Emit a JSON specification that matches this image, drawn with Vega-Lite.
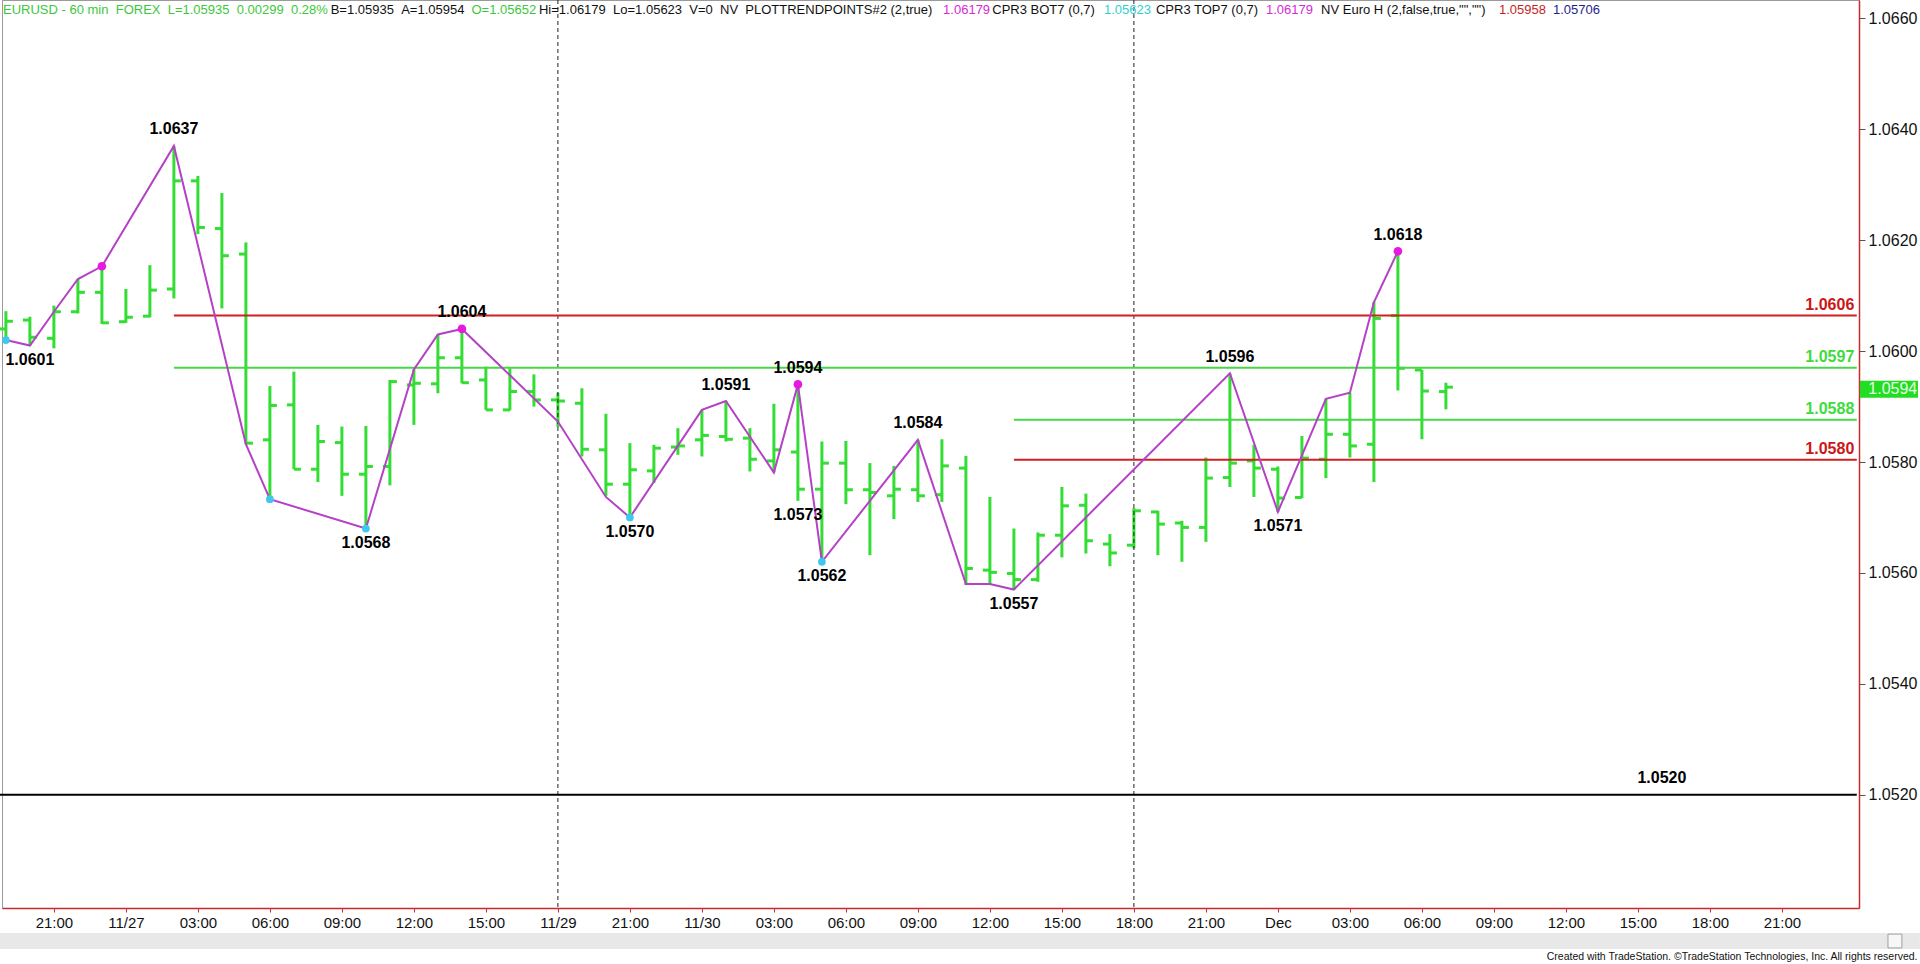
{
  "$schema": "https://vega.github.io/schema/vega-lite/v6.json",
  "width": 1857,
  "height": 908,
  "autosize": {"type": "none"},
  "padding": {"left": 2, "top": 0, "right": 61, "bottom": 56},
  "background": "white",
  "config": {
    "font": "Liberation Sans",
    "view": {"stroke": "#9a9a9a", "strokeWidth": 1}
  },
  "datasets": {
    "bars": [
      {"h": -2, "o": 1.0604, "hi": 1.06072, "lo": 1.0602, "c": 1.06054},
      {"h": -1, "o": 1.06056, "hi": 1.06062, "lo": 1.0601, "c": 1.06025},
      {"h": 0, "o": 1.06023, "hi": 1.06082, "lo": 1.06005, "c": 1.06071},
      {"h": 1, "o": 1.06071, "hi": 1.0613, "lo": 1.06068, "c": 1.06106},
      {"h": 2, "o": 1.06106, "hi": 1.06153, "lo": 1.06049, "c": 1.06051},
      {"h": 3, "o": 1.06053, "hi": 1.06112, "lo": 1.06051, "c": 1.06061},
      {"h": 4, "o": 1.06063, "hi": 1.06155, "lo": 1.06061, "c": 1.0611},
      {"h": 5, "o": 1.06112, "hi": 1.0637, "lo": 1.06095, "c": 1.06307},
      {"h": 6, "o": 1.06307, "hi": 1.06316, "lo": 1.06211, "c": 1.06223},
      {"h": 7, "o": 1.06221, "hi": 1.06285, "lo": 1.06077, "c": 1.06172},
      {"h": 8, "o": 1.06175, "hi": 1.06196, "lo": 1.05832, "c": 1.05834},
      {"h": 9, "o": 1.0584, "hi": 1.05937, "lo": 1.05733, "c": 1.05902},
      {"h": 10, "o": 1.05903, "hi": 1.05963, "lo": 1.05787, "c": 1.05787},
      {"h": 11, "o": 1.05787, "hi": 1.05867, "lo": 1.05764, "c": 1.05837},
      {"h": 12, "o": 1.05835, "hi": 1.05864, "lo": 1.05739, "c": 1.05778},
      {"h": 13, "o": 1.05778, "hi": 1.05865, "lo": 1.0568, "c": 1.05792},
      {"h": 14, "o": 1.05792, "hi": 1.05948, "lo": 1.05758, "c": 1.05945},
      {"h": 15, "o": 1.05939, "hi": 1.05967, "lo": 1.05867, "c": 1.05942},
      {"h": 16, "o": 1.05941, "hi": 1.0603, "lo": 1.05924, "c": 1.05988},
      {"h": 17, "o": 1.05988, "hi": 1.0604, "lo": 1.05942, "c": 1.05943},
      {"h": 18, "o": 1.05948, "hi": 1.05972, "lo": 1.05894, "c": 1.05894},
      {"h": 19, "o": 1.05894, "hi": 1.05969, "lo": 1.05893, "c": 1.05927},
      {"h": 20, "o": 1.05927, "hi": 1.05958, "lo": 1.059, "c": 1.05912},
      {"h": 21, "o": 1.05912, "hi": 1.05925, "lo": 1.05863, "c": 1.0591},
      {"h": 22, "o": 1.05906, "hi": 1.05933, "lo": 1.0581, "c": 1.05823},
      {"h": 23, "o": 1.05822, "hi": 1.05887, "lo": 1.05739, "c": 1.0576},
      {"h": 24, "o": 1.0576, "hi": 1.05834, "lo": 1.057, "c": 1.05786},
      {"h": 25, "o": 1.05784, "hi": 1.05831, "lo": 1.05762, "c": 1.05825},
      {"h": 26, "o": 1.05827, "hi": 1.05861, "lo": 1.05813, "c": 1.05829},
      {"h": 27, "o": 1.0584, "hi": 1.05894, "lo": 1.0581, "c": 1.05848},
      {"h": 28, "o": 1.05846, "hi": 1.0591, "lo": 1.05837, "c": 1.05841},
      {"h": 29, "o": 1.05843, "hi": 1.05861, "lo": 1.05783, "c": 1.05805},
      {"h": 30, "o": 1.05802, "hi": 1.05905, "lo": 1.05781, "c": 1.05822},
      {"h": 31, "o": 1.05818, "hi": 1.0594, "lo": 1.0573, "c": 1.05751},
      {"h": 32, "o": 1.05751, "hi": 1.05837, "lo": 1.0562, "c": 1.05798},
      {"h": 33, "o": 1.05798, "hi": 1.05838, "lo": 1.05724, "c": 1.0575},
      {"h": 34, "o": 1.0575, "hi": 1.05798, "lo": 1.05632, "c": 1.05745},
      {"h": 35, "o": 1.05739, "hi": 1.05793, "lo": 1.05697, "c": 1.05751},
      {"h": 36, "o": 1.0575, "hi": 1.0584, "lo": 1.05728, "c": 1.05739},
      {"h": 37, "o": 1.05741, "hi": 1.05841, "lo": 1.05728, "c": 1.05793},
      {"h": 38, "o": 1.05789, "hi": 1.05811, "lo": 1.05578, "c": 1.05608},
      {"h": 39, "o": 1.05605, "hi": 1.05737, "lo": 1.05578, "c": 1.05601},
      {"h": 40, "o": 1.05599, "hi": 1.0568, "lo": 1.0557, "c": 1.05588},
      {"h": 41, "o": 1.05588, "hi": 1.05673, "lo": 1.05584, "c": 1.05668},
      {"h": 42, "o": 1.05668, "hi": 1.05755, "lo": 1.05628, "c": 1.05721},
      {"h": 43, "o": 1.05722, "hi": 1.05743, "lo": 1.05635, "c": 1.05658},
      {"h": 44, "o": 1.05652, "hi": 1.0567, "lo": 1.05612, "c": 1.05636},
      {"h": 45, "o": 1.0565, "hi": 1.05717, "lo": 1.05644, "c": 1.05712},
      {"h": 46, "o": 1.0571, "hi": 1.05712, "lo": 1.05632, "c": 1.05688},
      {"h": 47, "o": 1.0569, "hi": 1.05694, "lo": 1.0562, "c": 1.05682},
      {"h": 48, "o": 1.05682, "hi": 1.05808, "lo": 1.05656, "c": 1.05771},
      {"h": 49, "o": 1.05772, "hi": 1.0596, "lo": 1.05755, "c": 1.05798},
      {"h": 50, "o": 1.05802, "hi": 1.05831, "lo": 1.05737, "c": 1.05789},
      {"h": 51, "o": 1.05787, "hi": 1.05792, "lo": 1.0571, "c": 1.05735},
      {"h": 52, "o": 1.05736, "hi": 1.05847, "lo": 1.05735, "c": 1.05807},
      {"h": 53, "o": 1.05805, "hi": 1.05914, "lo": 1.05771, "c": 1.0585},
      {"h": 54, "o": 1.0585, "hi": 1.05925, "lo": 1.05808, "c": 1.05829},
      {"h": 55, "o": 1.05832, "hi": 1.06089, "lo": 1.05764, "c": 1.06059},
      {"h": 56, "o": 1.06064, "hi": 1.06179, "lo": 1.05929, "c": 1.05969},
      {"h": 57, "o": 1.05966, "hi": 1.05966, "lo": 1.05841, "c": 1.05928},
      {"h": 58, "o": 1.05927, "hi": 1.05943, "lo": 1.05895, "c": 1.05935}
    ],
    "zig": [
      {"h": -2, "p": 1.0602}, {"h": -1, "p": 1.0601}, {"h": 0, "p": 1.06071},
      {"h": 1, "p": 1.0613}, {"h": 2, "p": 1.06153}, {"h": 5, "p": 1.0637},
      {"h": 8, "p": 1.05832}, {"h": 9, "p": 1.05733}, {"h": 13, "p": 1.0568},
      {"h": 15, "p": 1.05967}, {"h": 16, "p": 1.0603}, {"h": 17, "p": 1.0604},
      {"h": 21, "p": 1.05873}, {"h": 23, "p": 1.05737}, {"h": 24, "p": 1.057},
      {"h": 27, "p": 1.05894}, {"h": 28, "p": 1.0591}, {"h": 30, "p": 1.05781},
      {"h": 31, "p": 1.0594}, {"h": 32, "p": 1.0562}, {"h": 36, "p": 1.0584},
      {"h": 38, "p": 1.0558}, {"h": 39, "p": 1.0558}, {"h": 40, "p": 1.0557},
      {"h": 49, "p": 1.0596}, {"h": 51, "p": 1.0571}, {"h": 53, "p": 1.05914},
      {"h": 54, "p": 1.05925}, {"h": 55, "p": 1.06088}, {"h": 56, "p": 1.0618}
    ],
    "dots": [
      {"h": -2, "p": 1.0602, "k": "low"}, {"h": 9, "p": 1.05733, "k": "low"},
      {"h": 13, "p": 1.0568, "k": "low"}, {"h": 24, "p": 1.057, "k": "low"},
      {"h": 32, "p": 1.0562, "k": "low"}, {"h": 2, "p": 1.06153, "k": "high"},
      {"h": 17, "p": 1.0604, "k": "high"}, {"h": 31, "p": 1.0594, "k": "high"},
      {"h": 56, "p": 1.0618, "k": "high"}
    ],
    "labels": [
      {"h": 5, "p": 1.0637, "side": "high"}, {"h": 17, "p": 1.0604, "side": "high"},
      {"h": 28, "p": 1.0591, "side": "high"}, {"h": 31, "p": 1.0594, "side": "high"},
      {"h": 36, "p": 1.0584, "side": "high"}, {"h": 49, "p": 1.0596, "side": "high"},
      {"h": 56, "p": 1.0618, "side": "high"},
      {"h": -1, "p": 1.0601, "side": "low"}, {"h": 13, "p": 1.0568, "side": "low"},
      {"h": 24, "p": 1.057, "side": "low"}, {"h": 31, "p": 1.0573, "side": "low"},
      {"h": 32, "p": 1.0562, "side": "low"}, {"h": 40, "p": 1.0557, "side": "low"},
      {"h": 51, "p": 1.0571, "side": "low"}
    ],
    "levels": [
      {"p": 1.06064, "a": 5, "b": 75.12, "k": "r"},
      {"p": 1.0597, "a": 5, "b": 75.12, "k": "g"},
      {"p": 1.05876, "a": 40, "b": 75.12, "k": "g"},
      {"p": 1.05804, "a": 40, "b": 75.12, "k": "r"}
    ],
    "floor": [{"p": 1.052, "a": -2.25, "b": 75.12}],
    "vlines": [{"h": 21}, {"h": 45}],
    "one": [{}]
  },
  "layer": [
    {
      "data": {"name": "bars"},
      "mark": {"type": "rule", "color": "#33dd33", "strokeWidth": 3},
      "encoding": {
        "x": {
          "field": "h", "type": "quantitative", "title": null,
          "scale": {"domain": [-2.1625, 75.2125], "nice": false, "zero": false},
          "axis": {
            "orient": "bottom",
            "title": null,
            "values": [0, 3, 6, 9, 12, 15, 18, 21, 24, 27, 30, 33, 36, 39, 42, 45, 48, 51, 54, 57, 60, 63, 66, 69, 72],
            "labelExpr": "['21:00','11/27','03:00','06:00','09:00','12:00','15:00','11/29','21:00','11/30','03:00','06:00','09:00','12:00','15:00','18:00','21:00','Dec','03:00','06:00','09:00','12:00','15:00','18:00','21:00'][round(datum.value/3)]",
            "grid": false,
            "domainColor": "#cc2a2a",
            "domainWidth": 1.5,
            "tickColor": "#cc2a2a",
            "tickSize": 4,
            "labelFontSize": 15,
            "labelColor": "#111111",
            "labelPadding": 3,
            "labelFlush": false,
            "labelOverlap": false,
            "labelBound": false
          }
        },
        "y": {
          "field": "lo", "type": "quantitative", "title": null,
          "scale": {"domain": [1.049957, 1.066332], "nice": false, "zero": false},
          "axis": {
            "orient": "right",
            "title": null,
            "values": [1.052, 1.054, 1.056, 1.058, 1.06, 1.062, 1.064, 1.066],
            "format": ".4f",
            "grid": false,
            "domainColor": "#cc2a2a",
            "domainWidth": 1.5,
            "tickColor": "#555555",
            "tickSize": 6,
            "labelFontSize": 16,
            "labelColor": "#111111",
            "labelPadding": 3,
            "labelFlush": false,
            "labelOverlap": false,
            "labelBound": false
          }
        },
        "y2": {"field": "hi"}
      }
    },
    {
      "data": {"name": "one"},
      "mark": {"type": "rect", "color": "#e8e8e8"},
      "encoding": {
        "x": {"datum": -2.25, "type": "quantitative", "title": null},
        "x2": {"datum": 77.75},
        "y": {"datum": 1.049506, "type": "quantitative", "title": null},
        "y2": {"datum": 1.049217}
      }
    },
    {
      "data": {"name": "one"},
      "mark": {"type": "rect", "color": "#f7f7f7", "stroke": "#a0a0a0", "strokeWidth": 1},
      "encoding": {
        "x": {"datum": 76.42, "type": "quantitative", "title": null},
        "x2": {"datum": 77.0},
        "y": {"datum": 1.049486, "type": "quantitative", "title": null},
        "y2": {"datum": 1.049237}
      }
    },
    {
      "data": {"name": "bars"},
      "mark": {"type": "tick", "orient": "horizontal", "color": "#33dd33", "size": 7, "thickness": 3, "xOffset": -3.5, "opacity": 1},
      "encoding": {
        "x": {"field": "h", "type": "quantitative", "title": null},
        "y": {"field": "o", "type": "quantitative", "title": null}
      }
    },
    {
      "data": {"name": "bars"},
      "mark": {"type": "tick", "orient": "horizontal", "color": "#33dd33", "size": 7, "thickness": 3, "xOffset": 3.5, "opacity": 1},
      "encoding": {
        "x": {"field": "h", "type": "quantitative", "title": null},
        "y": {"field": "c", "type": "quantitative", "title": null}
      }
    },
    {
      "data": {"name": "vlines"},
      "mark": {"type": "rule", "color": "#222222", "strokeWidth": 1, "strokeDash": [4, 3]},
      "encoding": {
        "x": {"field": "h", "type": "quantitative", "title": null}
      }
    },
    {
      "data": {"name": "levels"},
      "transform": [{"filter": "datum.k == 'r'"}],
      "mark": {"type": "rule", "color": "#d02020", "strokeWidth": 2},
      "encoding": {
        "x": {"field": "a", "type": "quantitative", "title": null},
        "x2": {"field": "b"},
        "y": {"field": "p", "type": "quantitative", "title": null}
      }
    },
    {
      "data": {"name": "levels"},
      "transform": [{"filter": "datum.k == 'g'"}],
      "mark": {"type": "rule", "color": "#47d647", "strokeWidth": 2},
      "encoding": {
        "x": {"field": "a", "type": "quantitative", "title": null},
        "x2": {"field": "b"},
        "y": {"field": "p", "type": "quantitative", "title": null}
      }
    },
    {
      "data": {"name": "floor"},
      "mark": {"type": "rule", "color": "#000000", "strokeWidth": 2},
      "encoding": {
        "x": {"field": "a", "type": "quantitative", "title": null},
        "x2": {"field": "b"},
        "y": {"field": "p", "type": "quantitative", "title": null}
      }
    },
    {
      "data": {"name": "floor"},
      "mark": {"type": "text", "fontSize": 16, "fontWeight": "bold", "color": "#000000", "align": "center", "baseline": "middle", "dy": -17},
      "encoding": {
        "x": {"datum": 67, "type": "quantitative", "title": null},
        "y": {"field": "p", "type": "quantitative", "title": null},
        "text": {"field": "p", "format": ".4f"}
      }
    },
    {
      "data": {"name": "zig"},
      "mark": {"type": "line", "color": "#b541c6", "strokeWidth": 2},
      "encoding": {
        "x": {"field": "h", "type": "quantitative", "title": null},
        "y": {"field": "p", "type": "quantitative", "title": null}
      }
    },
    {
      "data": {"name": "dots"},
      "transform": [{"filter": "datum.k == 'high'"}],
      "mark": {"type": "point", "filled": true, "color": "#e619e0", "size": 75, "opacity": 1},
      "encoding": {
        "x": {"field": "h", "type": "quantitative", "title": null},
        "y": {"field": "p", "type": "quantitative", "title": null}
      }
    },
    {
      "data": {"name": "dots"},
      "transform": [{"filter": "datum.k == 'low'"}],
      "mark": {"type": "point", "filled": true, "color": "#3fc8ee", "size": 60, "opacity": 1},
      "encoding": {
        "x": {"field": "h", "type": "quantitative", "title": null},
        "y": {"field": "p", "type": "quantitative", "title": null}
      }
    },
    {
      "data": {"name": "labels"},
      "transform": [{"filter": "datum.side == 'high'"}],
      "mark": {"type": "text", "fontSize": 16, "fontWeight": "bold", "color": "#000000", "align": "center", "baseline": "middle", "dy": -16.5},
      "encoding": {
        "x": {"field": "h", "type": "quantitative", "title": null},
        "y": {"field": "p", "type": "quantitative", "title": null},
        "text": {"field": "p", "format": ".4f"}
      }
    },
    {
      "data": {"name": "labels"},
      "transform": [{"filter": "datum.side == 'low'"}],
      "mark": {"type": "text", "fontSize": 16, "fontWeight": "bold", "color": "#000000", "align": "center", "baseline": "middle", "dy": 14.5},
      "encoding": {
        "x": {"field": "h", "type": "quantitative", "title": null},
        "y": {"field": "p", "type": "quantitative", "title": null},
        "text": {"field": "p", "format": ".4f"}
      }
    },
    {
      "data": {"name": "levels"},
      "transform": [{"filter": "datum.k == 'r'"}],
      "mark": {"type": "text", "fontSize": 16, "fontWeight": "bold", "color": "#cc1616", "align": "right", "baseline": "middle", "dy": -11, "dx": -2.5},
      "encoding": {
        "x": {"field": "b", "type": "quantitative", "title": null},
        "y": {"field": "p", "type": "quantitative", "title": null},
        "text": {"field": "p", "format": ".4f"}
      }
    },
    {
      "data": {"name": "levels"},
      "transform": [{"filter": "datum.k == 'g'"}],
      "mark": {"type": "text", "fontSize": 16, "fontWeight": "bold", "color": "#3ddc3d", "align": "right", "baseline": "middle", "dy": -11, "dx": -2.5},
      "encoding": {
        "x": {"field": "b", "type": "quantitative", "title": null},
        "y": {"field": "p", "type": "quantitative", "title": null},
        "text": {"field": "p", "format": ".4f"}
      }
    },
    {
      "data": {"name": "one"},
      "mark": {"type": "rect", "color": "#22dd22"},
      "encoding": {
        "x": {"datum": 75.25, "type": "quantitative", "title": null},
        "x2": {"datum": 77.67},
        "y": {"datum": 1.059466, "type": "quantitative", "title": null},
        "y2": {"datum": 1.05916}
      }
    },
    {
      "data": {"name": "one"},
      "mark": {"type": "text", "fontSize": 16, "color": "#e6ffe6", "align": "left", "baseline": "middle"},
      "encoding": {
        "x": {"datum": 75.6, "type": "quantitative", "title": null},
        "y": {"datum": 1.059313, "type": "quantitative", "title": null},
        "text": {"value": "1.0594"}
      }
    },
    {
      "data": {"name": "one"},
      "mark": {"type": "text", "fontSize": 13, "color": "#3cc83c", "align": "left", "baseline": "middle"},
      "encoding": {
        "x": {"datum": -2.121, "type": "quantitative", "title": null},
        "y": {"datum": 1.066151, "type": "quantitative", "title": null},
        "text": {"value": "EURUSD - 60 min \u00a0FOREX \u00a0L=1.05935 \u00a00.00299 \u00a00.28%"}
      }
    },
    {
      "data": {"name": "one"},
      "mark": {"type": "text", "fontSize": 13, "color": "#111111", "align": "left", "baseline": "middle"},
      "encoding": {
        "x": {"datum": 11.533, "type": "quantitative", "title": null},
        "y": {"datum": 1.066151, "type": "quantitative", "title": null},
        "text": {"value": "B=1.05935 \u00a0A=1.05954"}
      }
    },
    {
      "data": {"name": "one"},
      "mark": {"type": "text", "fontSize": 13, "color": "#3cc83c", "align": "left", "baseline": "middle"},
      "encoding": {
        "x": {"datum": 17.4, "type": "quantitative", "title": null},
        "y": {"datum": 1.066151, "type": "quantitative", "title": null},
        "text": {"value": "O=1.05652"}
      }
    },
    {
      "data": {"name": "one"},
      "mark": {"type": "text", "fontSize": 13, "color": "#111111", "align": "left", "baseline": "middle"},
      "encoding": {
        "x": {"datum": 20.21, "type": "quantitative", "title": null},
        "y": {"datum": 1.066151, "type": "quantitative", "title": null},
        "text": {"value": "Hi=1.06179 \u00a0Lo=1.05623 \u00a0V=0 \u00a0NV \u00a0PLOTTRENDPOINTS#2 (2,true)"}
      }
    },
    {
      "data": {"name": "one"},
      "mark": {"type": "text", "fontSize": 13, "color": "#d62ad6", "align": "left", "baseline": "middle"},
      "encoding": {
        "x": {"datum": 37.05, "type": "quantitative", "title": null},
        "y": {"datum": 1.066151, "type": "quantitative", "title": null},
        "text": {"value": "1.06179"}
      }
    },
    {
      "data": {"name": "one"},
      "mark": {"type": "text", "fontSize": 13, "color": "#111111", "align": "left", "baseline": "middle"},
      "encoding": {
        "x": {"datum": 39.1, "type": "quantitative", "title": null},
        "y": {"datum": 1.066151, "type": "quantitative", "title": null},
        "text": {"value": "CPR3 BOT7 (0,7)"}
      }
    },
    {
      "data": {"name": "one"},
      "mark": {"type": "text", "fontSize": 13, "color": "#2fd0d0", "align": "left", "baseline": "middle"},
      "encoding": {
        "x": {"datum": 43.75, "type": "quantitative", "title": null},
        "y": {"datum": 1.066151, "type": "quantitative", "title": null},
        "text": {"value": "1.05623"}
      }
    },
    {
      "data": {"name": "one"},
      "mark": {"type": "text", "fontSize": 13, "color": "#111111", "align": "left", "baseline": "middle"},
      "encoding": {
        "x": {"datum": 45.92, "type": "quantitative", "title": null},
        "y": {"datum": 1.066151, "type": "quantitative", "title": null},
        "text": {"value": "CPR3 TOP7 (0,7)"}
      }
    },
    {
      "data": {"name": "one"},
      "mark": {"type": "text", "fontSize": 13, "color": "#d62ad6", "align": "left", "baseline": "middle"},
      "encoding": {
        "x": {"datum": 50.5, "type": "quantitative", "title": null},
        "y": {"datum": 1.066151, "type": "quantitative", "title": null},
        "text": {"value": "1.06179"}
      }
    },
    {
      "data": {"name": "one"},
      "mark": {"type": "text", "fontSize": 13, "color": "#111111", "align": "left", "baseline": "middle"},
      "encoding": {
        "x": {"datum": 52.8, "type": "quantitative", "title": null},
        "y": {"datum": 1.066151, "type": "quantitative", "title": null},
        "text": {"value": "NV Euro H (2,false,true,\"\",\"\")"}
      }
    },
    {
      "data": {"name": "one"},
      "mark": {"type": "text", "fontSize": 13, "color": "#c81e1e", "align": "left", "baseline": "middle"},
      "encoding": {
        "x": {"datum": 60.21, "type": "quantitative", "title": null},
        "y": {"datum": 1.066151, "type": "quantitative", "title": null},
        "text": {"value": "1.05958"}
      }
    },
    {
      "data": {"name": "one"},
      "mark": {"type": "text", "fontSize": 13, "color": "#1e1e8c", "align": "left", "baseline": "middle"},
      "encoding": {
        "x": {"datum": 62.46, "type": "quantitative", "title": null},
        "y": {"datum": 1.066151, "type": "quantitative", "title": null},
        "text": {"value": "1.05706"}
      }
    },
    {
      "data": {"name": "one"},
      "mark": {"type": "text", "fontSize": 10.5, "color": "#111111", "align": "right", "baseline": "middle"},
      "encoding": {
        "x": {"datum": 77.65, "type": "quantitative", "title": null},
        "y": {"datum": 1.049073, "type": "quantitative", "title": null},
        "text": {"value": "Created with TradeStation. ©TradeStation Technologies, Inc. All rights reserved."}
      }
    }
  ]
}
